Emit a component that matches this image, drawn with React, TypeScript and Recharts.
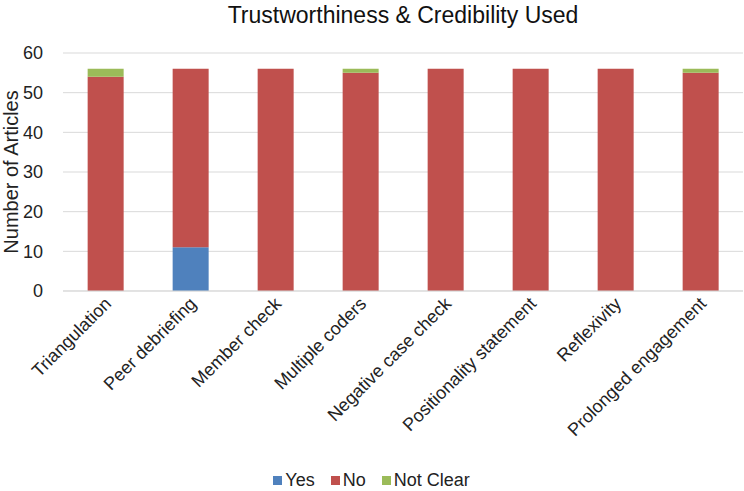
import React from 'react';
import { BarChart, Bar, XAxis, YAxis, CartesianGrid, Legend } from 'recharts';

const categories = [
  'Triangulation',
  'Peer debriefing',
  'Member check',
  'Multiple coders',
  'Negative case check',
  'Positionality statement',
  'Reflexivity',
  'Prolonged engagement',
];
const yesValues = [0, 11, 0, 0, 0, 0, 0, 0];
const noValues = [54, 45, 56, 55, 56, 56, 56, 55];
const notClearValues = [2, 0, 0, 1, 0, 0, 0, 1];
const yTicks = [0, 10, 20, 30, 40, 50, 60];

const series = [
  { key: 'yes', name: 'Yes', color: '#4f81bd' },
  { key: 'no', name: 'No', color: '#c0504d' },
  { key: 'notClear', name: 'Not Clear', color: '#9bbb59' },
];

const data = categories.map((name, i) => ({
  name,
  yes: yesValues[i],
  no: noValues[i],
  notClear: notClearValues[i],
}));

const font = '"Liberation Sans", Arial, sans-serif';
const textColor = '#222';

const CategoryTick = (props: any) => {
  const { x, y, payload } = props;
  return (
    <g transform={`translate(${x + 4},${y + 3})`}>
      <text transform="rotate(-45)" textAnchor="end" fontSize={18} fill={textColor} fontFamily={font} dy={4}>
        {payload.value}
      </text>
    </g>
  );
};

// legend drawn in series order (Recharts sorts by name otherwise)
const LegendContent = () => (
  <div style={{ display: 'flex', justifyContent: 'center', fontSize: 18, color: textColor, fontFamily: font }}>
    {series.map((s) => (
      <span key={s.key} style={{ display: 'inline-flex', alignItems: 'center', margin: '0 8px' }}>
        <span style={{ width: 9, height: 9, background: s.color, display: 'inline-block', marginRight: 3 }} />
        {s.name}
      </span>
    ))}
  </div>
);

const App: React.FC = () => {
  return (
    <div style={{ position: 'relative', width: 744, height: 491, fontFamily: font }}>
      <style>{`body{margin:0}`}</style>
      <div
        style={{
          position: 'absolute',
          left: 63,
          width: 680,
          top: 0,
          textAlign: 'center',
          fontSize: 23,
          color: '#111',
          lineHeight: '30px',
        }}
      >
        Trustworthiness &amp; Credibility Used
      </div>
      <BarChart
        width={744}
        height={491}
        data={data}
        margin={{ top: 53, right: 1, left: 0, bottom: 0 }}
        barCategoryGap="29%"
      >
        <CartesianGrid vertical={false} stroke="#d9d9d9" />
        <XAxis
          dataKey="name"
          tick={<CategoryTick />}
          tickLine={false}
          axisLine={{ stroke: '#d9d9d9' }}
          interval={0}
          height={179}
        />
        <YAxis
          domain={[0, 60]}
          ticks={yTicks}
          width={63}
          tickLine={false}
          axisLine={false}
          tickMargin={14}
          tick={{ fontSize: 18, fill: textColor, fontFamily: font }}
          label={{
            value: 'Number of Articles',
            angle: -90,
            position: 'insideLeft',
            offset: 11,
            style: { textAnchor: 'middle', fontSize: 20, fill: textColor, fontFamily: font },
          }}
        />
        <Legend verticalAlign="bottom" content={<LegendContent />} />
        {series.map((s) => (
          <Bar key={s.key} dataKey={s.key} name={s.name} stackId="a" fill={s.color} isAnimationActive={false} />
        ))}
      </BarChart>
    </div>
  );
};

export default App;
